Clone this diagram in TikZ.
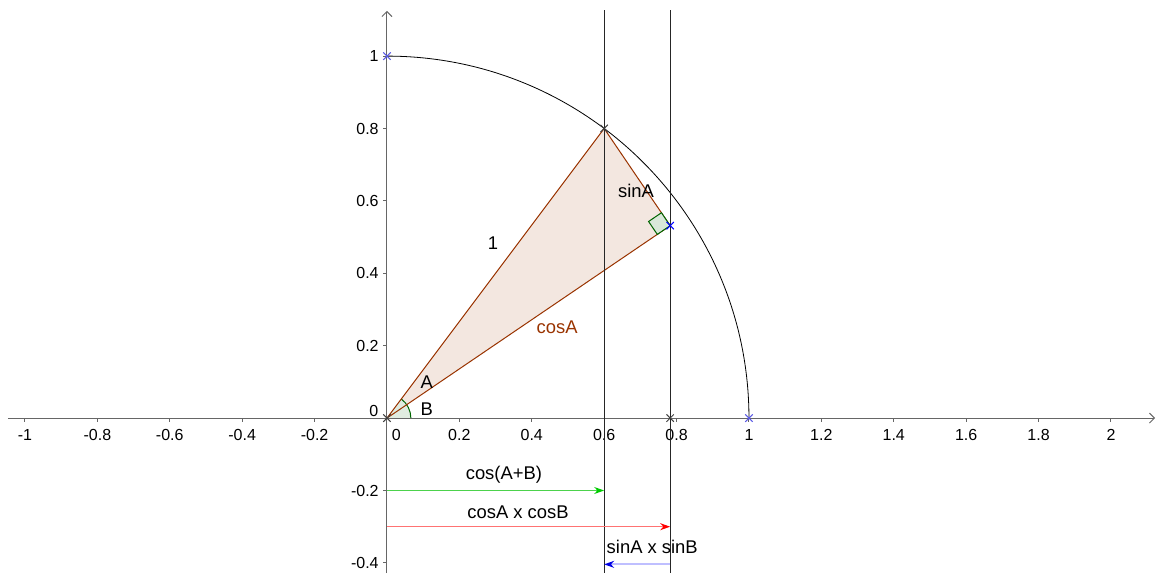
\documentclass[tikz,border=0pt]{standalone}
\usepackage{fontspec}
\setmainfont{Liberation Sans}
\usetikzlibrary{arrows.meta,shapes.misc,calc}

\definecolor{tribrown}{RGB}{153,51,0}
\definecolor{angreen}{RGB}{0,100,0}
\definecolor{ptblue}{RGB}{90,90,230}

\begin{document}
\begin{tikzpicture}[x=181pt, y=181pt,
    axis/.style={draw=black!60, line width=0.5pt, -{Straight Barb[length=2.5pt,width=5pt]}},
    vline/.style={draw=black!85, line width=0.5pt},
    ticklbl/.style={font=\fontsize{8}{9}\selectfont, inner sep=0pt},
    lbl/.style={font=\fontsize{9.2}{11}\selectfont, inner sep=0pt},
    pt/.style={cross out, draw=black!75, minimum size=3.2pt, inner sep=0pt, line width=0.5pt},
    arr/.style={line width=0.6pt, -{Stealth[length=5pt,width=3.5pt,color=#1]}}
]
\useasboundingbox (-1.069,-0.428) rectangle (2.141,1.155);

\coordinate (O) at (0,0);
\coordinate (P) at (0.6,0.8);
\coordinate (Q) at (0.78235,0.53168);

% triangle and angles
\fill[tribrown!12] (O) -- (P) -- (Q) -- cycle;
\fill[angreen!12] (O) -- (0:0.066) arc[start angle=0, end angle=53.13, radius=0.066] -- cycle;
\draw[angreen, line width=0.5pt] (0:0.066) arc[start angle=0, end angle=53.13, radius=0.066];
\draw[tribrown, line width=0.5pt] (O) -- (P) -- (Q) -- cycle;
\filldraw[fill=angreen!15, draw=angreen, line width=0.5pt]
    (Q) -- ++(214.2:0.043) -- ++(124.2:0.043) -- ++(34.2:0.043) -- cycle;

% axes
\draw[axis] (-1.047,0) -- (2.122,0);
\draw[axis] (0,-0.428) -- (0,1.125);
\foreach \x [count=\k] in {-1,-0.8,-0.6,-0.4,-0.2,0.2,0.4,0.6,0.8,1,1.2,1.4,1.6,1.8,2} {
  \draw[black!60, line width=0.5pt] (\x,0) -- (\x,-0.011);
  \node[ticklbl, anchor=north] (xl\k) at (\x,-0.031) {\x};
}
\foreach \y [count=\k] in {-0.4,-0.2,0.2,0.4,0.6,0.8,1} {
  \draw[black!60, line width=0.5pt] (0,\y) -- (-0.011,\y);
  \node[ticklbl, anchor=east] (yl\k) at (-0.022,\y) {\y};
}
\node[ticklbl] (x0) at (0.026,-0.047) {0};
\node[ticklbl] (y0) at (-0.036,0.019) {0};

% circle and vertical lines
\draw[black, line width=0.4pt] (0,1) arc[start angle=90, end angle=0, radius=1];
\draw[vline] (0.6,1.127) -- (0.6,-0.428);
\draw[vline] (0.78235,1.127) -- (0.78235,-0.428);

% points
\node[pt] (pO) at (O) {};
\node[pt] (pP) at (P) {};
\node[pt, draw=blue] (pQ) at (Q) {};
\node[pt, draw=ptblue] (pY) at (0,1) {};
\node[pt, draw=ptblue] (pX) at (1,0) {};
\node[pt] (pF) at (0.78235,0) {};

% labels
\node[lbl] (one) at (0.293,0.483) {1};
\node[lbl] (sA) at (0.688,0.627) {sinA};
\node[lbl, text=tribrown] (cA) at (0.470,0.250) {cosA};
\node[lbl] (angA) at (0.110,0.100) {A};
\node[lbl] (angB) at (0.110,0.026) {B};

% products
\coordinate (g0) at (0,-0.2);
\coordinate (g1) at (0.6,-0.2);
\coordinate (r0) at (0,-0.3);
\coordinate (r1) at (0.78235,-0.3);
\coordinate (b0) at (0.78235,-0.404);
\coordinate (b1) at (0.6,-0.404);
\draw[arr={green!80!black}, draw=green!75!black!70] (g0) -- (g1);
\draw[arr=red, draw=red!55] (r0) -- (r1);
\draw[arr={blue!90!black}, draw=blue!25, line width=0.9pt] (b0) -- (b1);
\node[lbl] (cAB) at (0.323,-0.157) {cos(A+B)};
\node[lbl] (cc) at (0.362,-0.260) {cosA x cosB};
\node[lbl, anchor=west] (ss) at (0.606,-0.356) {sinA x sinB};
\end{tikzpicture}
\end{document}
